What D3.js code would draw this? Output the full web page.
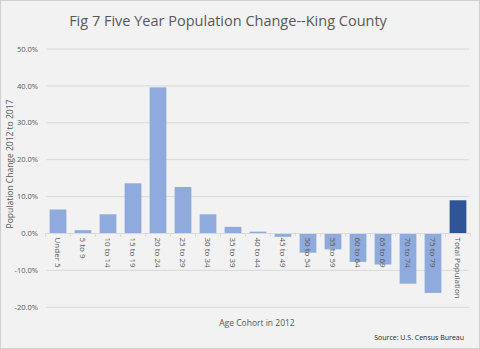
<html>
<script src="https://d3js.org/d3.v7.min.js"></script>
<body style="margin:0"></body>
<script>
const categories = ['Under 5','5 to 9','10 to 14','15 to 19','20 to 24','25 to 29','30 to 34','35 to 39','40 to 44','45 to 49','50 to 54','55 to 59','60 to 64','65 to 69','70 to 74','75 to 79','Total Population'];
const values = [6.5, 0.9, 5.2, 13.6, 39.6, 12.6, 5.2, 1.8, 0.5, -0.9, -5.2, -4.3, -7.7, -8.4, -13.6, -16.1, 9.0];
const yTicks = [-20, -10, 0, 10, 20, 30, 40, 50];

const width = 480, height = 349;
const font = 'Open Sans, sans-serif';

const svg = d3.select('body').append('svg')
  .attr('width', width)
  .attr('height', height);

svg.append('rect')
  .attr('x', 0.5).attr('y', 0.5)
  .attr('width', width - 1).attr('height', height - 1)
  .attr('fill', '#f2f2f2')
  .attr('stroke', '#d0d0d0');

const x = d3.scaleBand()
  .domain(categories)
  .range([45.5, 470.5])
  .paddingInner(0.33)
  .paddingOuter(0.165);

const y = d3.scaleLinear()
  .domain([-20, 50])
  .range([307.3, 49]);

// gridlines + y labels
svg.append('g')
  .selectAll('g')
    .data(yTicks)
  .enter()
    .append('g')
    .call(g=>{
      g.append('line')
        .attr('x1', 46).attr('x2', 469)
        .attr('y1', d=>y(d)).attr('y2', d=>y(d))
        .attr('stroke', '#d9d9d9')
        .attr('stroke-width', 1);
      g.append('text')
        .attr('x', 38)
        .attr('y', d=>y(d))
        .attr('dy', '0.35em')
        .attr('text-anchor', 'end')
        .attr('font-family', font)
        .attr('font-size', 7.5)
        .attr('fill', '#595959')
        .text(d=>d.toFixed(1) + '%');
    });

// bars
svg.append('g')
  .selectAll('rect')
    .data(values)
  .enter()
    .append('rect')
    .attr('x', (d,i)=>x(categories[i]))
    .attr('width', x.bandwidth())
    .attr('y', d=>y(Math.max(0, d)))
    .attr('height', d=>Math.abs(y(d) - y(0)))
    .attr('fill', (d,i)=>i === categories.length - 1 ? '#2f5597' : '#8faadc');

// zero axis with ticks
svg.append('line')
  .attr('x1', 45.5).attr('x2', 470.5)
  .attr('y1', y(0)).attr('y2', y(0))
  .attr('stroke', '#d9d9d9');
svg.append('g')
  .selectAll('line')
    .data(d3.range(categories.length + 1))
  .enter()
    .append('line')
    .attr('x1', d=>45.5 + d * x.step())
    .attr('x2', d=>45.5 + d * x.step())
    .attr('y1', y(0)).attr('y2', y(0) + 3)
    .attr('stroke', '#d9d9d9');

// x labels
svg.append('g')
  .selectAll('text')
    .data(categories)
  .enter()
    .append('text')
    .attr('transform', d=>`translate(${x(d) + x.bandwidth() / 2},${y(0) + 4}) rotate(90)`)
    .attr('dy', '0.35em')
    .attr('font-family', font)
    .attr('font-size', 8)
    .attr('fill', '#595959')
    .text(d=>d);

// titles
svg.append('text')
  .attr('x', 228).attr('y', 26)
  .attr('text-anchor', 'middle')
  .attr('font-family', font)
  .attr('font-size', 14.5)
  .attr('fill', '#595959')
  .text('Fig 7 Five Year Population Change--King County');

svg.append('text')
  .attr('transform', 'translate(13,164) rotate(-90)')
  .attr('text-anchor', 'middle')
  .attr('font-family', font)
  .attr('font-size', 8.5)
  .attr('fill', '#595959')
  .text('Population Change 2012 to 2017');

svg.append('text')
  .attr('x', 257).attr('y', 326)
  .attr('text-anchor', 'middle')
  .attr('font-family', font)
  .attr('font-size', 8.5)
  .attr('fill', '#595959')
  .text('Age Cohort  in 2012');

svg.append('text')
  .attr('x', 464).attr('y', 340)
  .attr('text-anchor', 'end')
  .attr('font-family', font)
  .attr('font-size', 7)
  .attr('fill', '#262626')
  .text('Source: U.S. Census Bureau');
</script>
</html>
